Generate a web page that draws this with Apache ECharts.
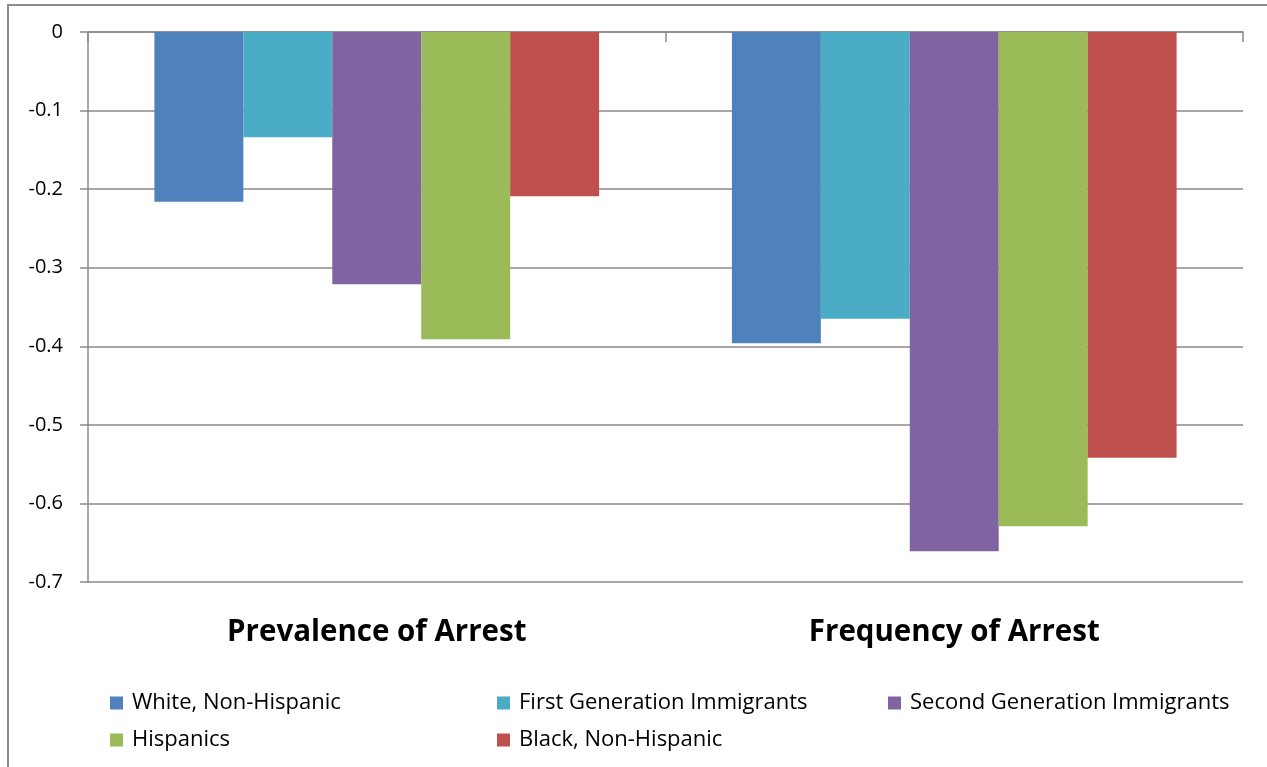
<!DOCTYPE html>
<html>
<head>
<meta charset="utf-8">
<script src="https://cdn.jsdelivr.net/npm/echarts@6/dist/echarts.min.js"></script>
<style>
  html, body { margin: 0; padding: 0; background: #fff; }
  #chart { width: 1267px; height: 767px; }
</style>
</head>
<body>
<div id="chart"></div>
<script>
// Categories along the x axis
const categories = ['Prevalence of Arrest', 'Frequency of Arrest'];

// Group names, in draw order
const groups = [
  'White, Non-Hispanic',
  'First Generation Immigrants',
  'Second Generation Immigrants',
  'Hispanics',
  'Black, Non-Hispanic'
];

// Values per group (Prevalence, Frequency)
const whiteNonHispanic = [-0.216, -0.396];
const firstGeneration = [-0.134, -0.365];
const secondGeneration = [-0.321, -0.661];
const hispanics = [-0.391, -0.629];
const blackNonHispanic = [-0.209, -0.542];

// Y axis tick values
const yTicks = [0, -0.1, -0.2, -0.3, -0.4, -0.5, -0.6, -0.7];

const seriesValues = [whiteNonHispanic, firstGeneration, secondGeneration, hispanics, blackNonHispanic];
const colors = ['#4F81BD', '#4BACC6', '#8064A2', '#9BBB59', '#C0504D'];

const FONT = '"Open Sans", Lato, sans-serif';
const GRID_COLOR = '#8a8a8a';

const chart = echarts.init(document.getElementById('chart'));

const legendBase = {
  orient: 'vertical',
  top: 687,
  itemWidth: 13,
  itemHeight: 13,
  itemGap: 15,
  icon: 'rect',
  textStyle: { fontFamily: FONT, fontSize: 22, color: '#000', padding: [0, 0, 0, 4] },
  selectedMode: false
};

chart.setOption({
  animation: false,
  backgroundColor: '#fff',
  color: colors,
  graphic: [{
    type: 'rect',
    shape: { x: 8, y: 5, width: 1400, height: 900 },
    style: { fill: 'none', stroke: '#8c8c8c', lineWidth: 2 },
    silent: true
  }],
  grid: { left: 88, right: 24, top: 32, bottom: 185 },
  legend: [
    Object.assign({}, legendBase, { left: 105, data: [groups[0], groups[3]] }),
    Object.assign({}, legendBase, { left: 492, data: [groups[1], groups[4]] }),
    Object.assign({}, legendBase, { left: 883, data: [groups[2]] })
  ],
  xAxis: [{
    type: 'category',
    data: categories,
    position: 'bottom',
    axisLine: { show: false, onZero: false },
    axisTick: { show: false },
    axisLabel: {
      margin: 36,
      fontFamily: FONT,
      fontSize: 29.5,
      fontWeight: 'bold',
      color: '#000'
    }
  }, {
    type: 'category',
    data: categories,
    position: 'top',
    axisLine: { show: true, onZero: false, lineStyle: { color: GRID_COLOR, width: 1.5 } },
    axisTick: { show: true, inside: true, length: 10, lineStyle: { color: GRID_COLOR, width: 1.5 } },
    axisLabel: { show: false }
  }],
  yAxis: {
    type: 'value',
    min: -0.7,
    max: 0,
    interval: 0.1,
    axisLine: { show: true, lineStyle: { color: GRID_COLOR, width: 1.5 } },
    axisTick: { show: true, length: 8, lineStyle: { color: GRID_COLOR, width: 1.5 } },
    splitLine: { show: true, lineStyle: { color: GRID_COLOR, width: 1.5 } },
    axisLabel: {
      margin: 25,
      fontFamily: FONT,
      fontSize: 20,
      color: '#000',
      formatter: function (v) {
        const t = yTicks.find(function (k) { return Math.abs(k - v) < 1e-9; });
        return t === undefined ? '' : String(t);
      }
    }
  },
  series: groups.map(function (name, i) {
    return {
      name: name,
      type: 'bar',
      xAxisIndex: 0,
      data: seriesValues[i],
      barGap: '0%',
      barCategoryGap: '23%',
      itemStyle: { color: colors[i] }
    };
  })
});
</script>
</body>
</html>
